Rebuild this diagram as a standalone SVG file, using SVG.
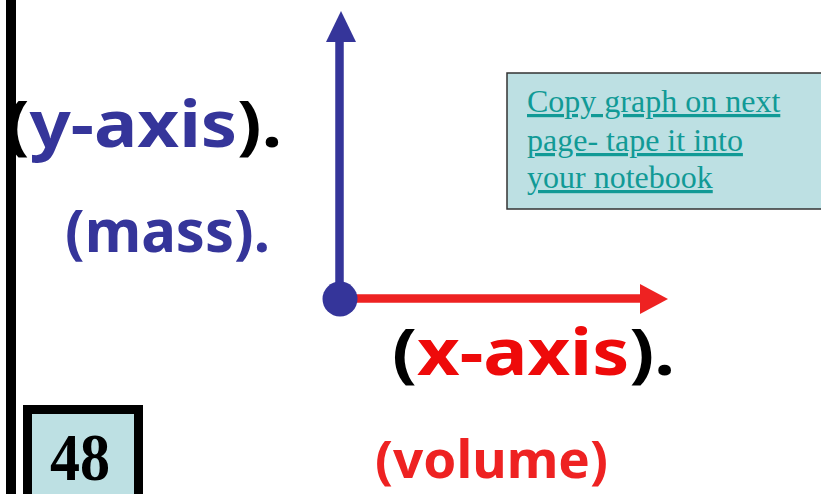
<svg xmlns="http://www.w3.org/2000/svg" width="821" height="494" viewBox="0 0 821 494">
<style>
.lbl{font-family:"Comic Sans MS","Noto Sans",sans-serif;font-weight:bold;}
.blue{fill:#35359a;}
.red{fill:#ee0a0a;}
.red2{fill:#ee2222;}
.blk{fill:#000;}
.note{font-family:"Liberation Serif","Times New Roman",serif;font-size:32px;fill:#119a96;text-decoration:underline;}
</style>
<rect x="0" y="0" width="821" height="494" fill="#ffffff"/>
<rect id="left-bar" x="6" y="0" width="10" height="494" fill="#000"/>
<g id="connectors">
  <line x1="339.5" y1="299" x2="339.5" y2="40" stroke="#35359a" stroke-width="8.5"/>
  <polygon points="326,42 356,42 341,11" fill="#35359a"/>
  <line x1="340" y1="298.5" x2="642" y2="298.5" stroke="#ee2222" stroke-width="8.5"/>
  <polygon points="640,284 668,299 640,314" fill="#ee2222"/>
</g>
<g id="origin">
  <circle cx="340" cy="299" r="17.5" fill="#35359a"/>
</g>
<g id="y-axis-label">
  <text class="lbl" x="5" y="147" font-size="64" textLength="277" lengthAdjust="spacingAndGlyphs"><tspan class="blk">(</tspan><tspan class="blue">y-axis</tspan><tspan class="blk">).</tspan></text>
</g>
<g id="mass-label">
  <text class="lbl blue" x="65" y="252" font-size="60" textLength="205" lengthAdjust="spacingAndGlyphs">(mass).</text>
</g>
<g id="x-axis-label">
  <text class="lbl" x="392" y="375" font-size="64" textLength="283" lengthAdjust="spacingAndGlyphs"><tspan class="blk">(</tspan><tspan class="red">x-axis</tspan><tspan class="blk">).</tspan></text>
</g>
<g id="volume-label">
  <text class="lbl red2" x="375" y="478" font-size="52" textLength="233" lengthAdjust="spacingAndGlyphs">(volume)</text>
</g>
<g id="note">
  <rect x="507" y="73" width="320" height="136" fill="#bde0e3" stroke="#333" stroke-width="1.5"/>
  <text class="note" x="527" y="112">Copy graph on next</text>
  <text class="note" x="527" y="151">page- tape it into</text>
  <text class="note" x="527" y="188">your notebook</text>
</g>
<g id="page-number">
  <rect x="27.5" y="409.5" width="111" height="100" fill="#bde0e3" stroke="#000" stroke-width="9"/>
  <text x="80" y="480" font-family="Liberation Serif,'Times New Roman',serif" font-weight="bold" font-size="68" text-anchor="middle" textLength="60" lengthAdjust="spacingAndGlyphs">48</text>
</g>
</svg>
